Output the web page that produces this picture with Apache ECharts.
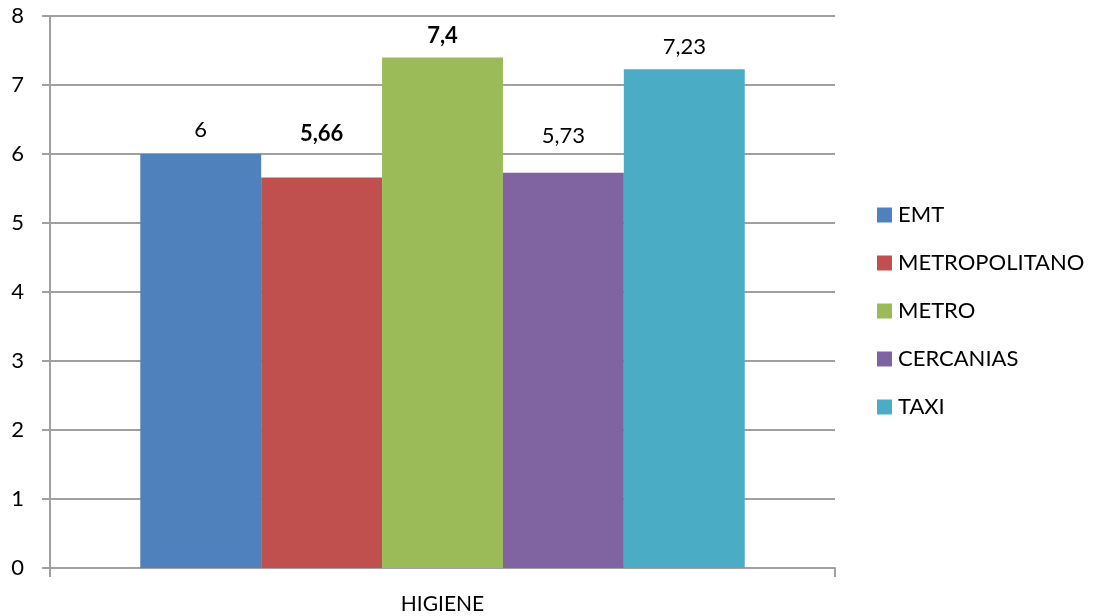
<!DOCTYPE html>
<html>
<head>
<meta charset="utf-8">
<script src="https://cdn.jsdelivr.net/npm/echarts@6/dist/echarts.min.js"></script>
<style>
  html, body { margin: 0; padding: 0; background: #fff; }
  #chart { width: 1096px; height: 616px; }
</style>
</head>
<body>
<div id="chart"></div>
<script>
// Valoración de la higiene por medio de transporte
const categories = ['HIGIENE'];
const seriesNames = ['EMT', 'METROPOLITANO', 'METRO', 'CERCANIAS', 'TAXI'];
const seriesValues = [6, 5.66, 7.4, 5.73, 7.23];
const seriesColors = ['#4f81bd', '#c0504d', '#9bbb59', '#8064a2', '#4bacc6'];
const boldLabels = [false, true, true, false, false];
// gap between each bar top and its value label, in pixels
const labelGaps = [13, 33, 10, 26, 11];
const yTicks = [0, 1, 2, 3, 4, 5, 6, 7, 8];

const FONT = 'Lato';
const chart = echarts.init(document.getElementById('chart'), null, { renderer: 'canvas' });

const series = seriesNames.map((name, i) => ({
  name: name,
  type: 'bar',
  data: [seriesValues[i]],
  itemStyle: { color: seriesColors[i] },
  barGap: '0%',
  barCategoryGap: '23%',
  label: {
    show: true,
    position: 'top',
    distance: labelGaps[i],
    color: '#000',
    fontFamily: FONT,
    fontSize: 22,
    lineHeight: 22,
    fontWeight: boldLabels[i] ? 'bold' : 'normal',
    formatter: p => String(p.value).replace('.', ',')
  }
}));

chart.setOption({
  animation: false,
  backgroundColor: '#fff',
  grid: { left: 50, right: 261, top: 16, bottom: 48 },
  legend: {
    orient: 'vertical',
    left: 877,
    top: 204,
    padding: 0,
    itemWidth: 15,
    itemHeight: 15,
    itemGap: 26,
    icon: 'rect',
    data: seriesNames,
    textStyle: { fontFamily: FONT, fontSize: 22, lineHeight: 22, color: '#000', padding: [0, 0, 0, 1] }
  },
  xAxis: {
    type: 'category',
    data: categories,
    axisLine: { lineStyle: { color: '#a0a0a0', width: 2 } },
    axisTick: { show: true, length: 9, lineStyle: { color: '#a0a0a0', width: 2 } },
    axisLabel: { fontFamily: FONT, fontSize: 21, color: '#000', margin: 26 }
  },
  yAxis: {
    type: 'value',
    min: 0,
    max: 8,
    interval: 1,
    axisLine: { show: true, lineStyle: { color: '#a0a0a0', width: 2 } },
    axisTick: { show: true, length: 8, lineStyle: { color: '#a0a0a0', width: 2 } },
    splitLine: { lineStyle: { color: '#a0a0a0', width: 2 } },
    axisLabel: {
      fontFamily: FONT, fontSize: 22, color: '#000', margin: 26,
      formatter: v => yTicks.includes(v) ? String(v) : ''
    }
  },
  series: series
});
</script>
</body>
</html>
